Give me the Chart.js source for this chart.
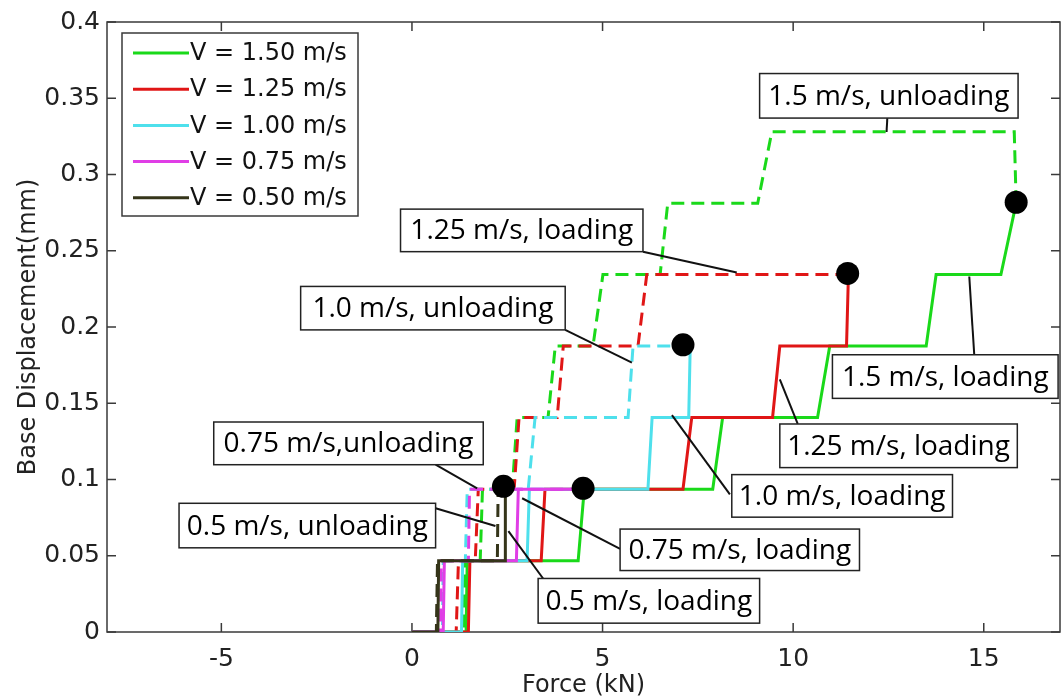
<!DOCTYPE html>
<html><head><meta charset="utf-8">
<script src="https://cdn.jsdelivr.net/npm/chart.js@4.4.1/dist/chart.umd.min.js"></script>
<style>html,body{margin:0;background:#fff}canvas{display:block}</style>
</head><body>
<canvas id="c" width="1061" height="700" style="width:1061px;height:700px"></canvas>
<script>
// Base displacement vs force, step curves (loading solid / unloading dashed)
const xTicks = [-5, 0, 5, 10, 15];
const yTicks = [0, 0.05, 0.1, 0.15, 0.2, 0.25, 0.3, 0.35, 0.4];
const yTickLabels = ['0','0.05','0.1','0.15','0.2','0.25','0.3','0.35','0.4'];
const speeds = ['V = 1.50 m/s','V = 1.25 m/s','V = 1.00 m/s','V = 0.75 m/s','V = 0.50 m/s'];
const colors = ['#1ad91a','#e01616','#4ee0ec','#e03ee6','#35351a'];

// loading (solid)
const load150X = [0, 1.42, 1.45, 4.36, 4.52, 7.89, 8.15, 10.64, 10.96, 13.49, 13.75, 15.45, 15.85];
const load150Y = [0, 0, 0.0468, 0.0468, 0.0936, 0.0936, 0.1407, 0.1407, 0.1876, 0.1876, 0.2344, 0.2344, 0.2812];
const load125X = [0, 1.48, 1.52, 3.39, 3.49, 7.11, 7.34, 9.46, 9.65, 11.40, 11.45];
const load125Y = [0, 0, 0.0468, 0.0468, 0.0936, 0.0936, 0.1407, 0.1407, 0.1876, 0.1876, 0.2344];
const load100X = [0, 1.30, 1.33, 3.02, 3.08, 6.19, 6.30, 7.26, 7.30];
const load100Y = [0, 0, 0.0468, 0.0468, 0.0936, 0.0936, 0.1407, 0.1407, 0.1876];
const load075X = [0, 0.82, 0.85, 2.74, 2.79, 4.49];
const load075Y = [0, 0, 0.0468, 0.0468, 0.0936, 0.0936];
const load050X = [0, 0.68, 0.70, 2.45, 2.45];
const load050Y = [0, 0, 0.0468, 0.0468, 0.0936];

// unloading (dashed)
const unl150X = [15.85, 15.80, 9.44, 9.07, 6.71, 6.51, 5.01, 4.75, 3.76, 3.57, 2.76, 2.63, 1.85, 1.79, 1.40, 1.35];
const unl150Y = [0.2812, 0.328, 0.328, 0.2812, 0.2812, 0.2344, 0.2344, 0.1876, 0.1876, 0.1407, 0.1407, 0.0936, 0.0936, 0.0468, 0.0468, 0];
const unl125X = [11.45, 6.16, 5.93, 3.97, 3.81, 2.81, 2.68, 1.74, 1.66, 1.22, 1.16];
const unl125Y = [0.2344, 0.2344, 0.1876, 0.1876, 0.1407, 0.1407, 0.0936, 0.0936, 0.0468, 0.0468, 0];
const unl100X = [7.30, 5.80, 5.67, 3.23, 3.05, 1.45, 1.40, 0.82, 0.80];
const unl100Y = [0.1876, 0.1876, 0.1407, 0.1407, 0.0936, 0.0936, 0.0468, 0.0468, 0];
const unl075X = [4.49, 1.51, 1.48, 0.77, 0.75];
const unl075Y = [0.0936, 0.0936, 0.0468, 0.0468, 0];
const unl050X = [2.40, 2.26, 2.24, 0.67, 0.64];
const unl050Y = [0.0936, 0.0936, 0.0468, 0.0468, 0];

// peak markers
const peakX = [2.40, 4.49, 7.11, 11.43, 15.85];
const peakY = [0.0955, 0.0942, 0.1883, 0.2351, 0.2818];

// callouts: box [x1,y1,x2,y2] and leader [x1,y1,x2,y2], data units
const notes = [
  {text:'1.5 m/s, unloading', box:[9.12,0.3662,15.90,0.3370], lead:[12.47,0.3370,12.45,0.3279]},
  {text:'1.25 m/s, loading', box:[-0.30,0.2773,6.06,0.2494], lead:[6.06,0.2494,8.52,0.2357]},
  {text:'1.0 m/s, unloading', box:[-2.92,0.2266,4.02,0.1981], lead:[4.02,0.1981,5.77,0.1766]},
  {text:'1.5 m/s, loading', box:[11.03,0.1818,16.95,0.1532], lead:[14.62,0.2331,14.75,0.1818]},
  {text:'1.25 m/s, loading', box:[9.65,0.1364,15.88,0.1078], lead:[9.65,0.1656,10.12,0.1364]},
  {text:'1.0 m/s, loading', box:[8.39,0.1032,14.18,0.0753], lead:[6.82,0.1422,8.34,0.0903]},
  {text:'0.75 m/s, loading', box:[5.46,0.0675,11.74,0.0403], lead:[2.89,0.0877,5.46,0.0545]},
  {text:'0.5 m/s, loading', box:[3.31,0.0351,9.12,0.0058], lead:[2.53,0.0662,3.44,0.0351]},
  {text:'0.75 m/s,unloading', box:[-5.20,0.1377,1.87,0.1097], lead:[0.62,0.1097,1.71,0.0942]},
  {text:'0.5 m/s, unloading', box:[-6.11,0.0844,0.62,0.0552], lead:[0.62,0.0812,2.19,0.0695]}
];

const pts=(xs,ys)=>xs.map((x,i)=>({x,y:ys[i]}));
const line=(xs,ys,color,dash)=>({data:pts(xs,ys),borderColor:color,borderWidth:3,borderDash:dash?[13,7]:[],pointRadius:0,showLine:true,fill:false,tension:0});

// first dataset is drawn on top
const datasets=[
  {data:pts(peakX,peakY),pointRadius:11.5,pointBackgroundColor:'#000',pointBorderWidth:0,showLine:false},
  line(load050X,load050Y,colors[4]), line(unl050X,unl050Y,colors[4],true),
  line(load075X,load075Y,colors[3]), line(unl075X,unl075Y,colors[3],true),
  line(load100X,load100Y,colors[2]), line(unl100X,unl100Y,colors[2],true),
  line(load125X,load125Y,colors[1]), line(unl125X,unl125Y,colors[1],true),
  line(load150X,load150Y,colors[0]), line(unl150X,unl150Y,colors[0],true)
];

const FONT='DejaVu Sans';
const frame={id:'frame',beforeDatasetsDraw(c){
  const {ctx,chartArea:a,scales:{x,y}}=c; ctx.save();
  ctx.strokeStyle='#3a3a3a'; ctx.lineWidth=1.5;
  ctx.strokeRect(a.left,a.top,a.right-a.left,a.bottom-a.top);
  ctx.beginPath();
  xTicks.forEach(v=>{const p=x.getPixelForValue(v); ctx.moveTo(p,a.bottom); ctx.lineTo(p,a.bottom-9); ctx.moveTo(p,a.top); ctx.lineTo(p,a.top+9);});
  yTicks.forEach(v=>{const p=y.getPixelForValue(v); ctx.moveTo(a.left,p); ctx.lineTo(a.left+9,p); ctx.moveTo(a.right,p); ctx.lineTo(a.right-9,p);});
  ctx.stroke(); ctx.restore();
}};
const callouts={id:'callouts',afterDatasetsDraw(c){
  const {ctx,scales:{x,y}}=c; ctx.save();
  ctx.strokeStyle='#111'; ctx.lineWidth=2;
  notes.forEach(n=>{const [a,b,p,q]=n.lead; ctx.beginPath(); ctx.moveTo(x.getPixelForValue(a),y.getPixelForValue(b)); ctx.lineTo(x.getPixelForValue(p),y.getPixelForValue(q)); ctx.stroke();});
  ctx.font='28px "Open Sans"'; ctx.textAlign='center'; ctx.textBaseline='middle';
  notes.forEach(n=>{
    const l=x.getPixelForValue(n.box[0]), t=y.getPixelForValue(n.box[1]), r=x.getPixelForValue(n.box[2]), b=y.getPixelForValue(n.box[3]);
    ctx.fillStyle='#fff'; ctx.fillRect(l,t,r-l,b-t);
    ctx.lineWidth=1.5; ctx.strokeStyle='#222'; ctx.strokeRect(l,t,r-l,b-t);
    ctx.fillStyle='#000'; ctx.fillText(n.text,(l+r)/2,(t+b)/2+1);
  });
  ctx.restore();
}};
const legendBox={id:'legendBox',afterDraw(c){
  const {ctx,chartArea:a}=c; const x0=a.left+15, y0=a.top+11, w=236, h=183;
  ctx.save(); ctx.fillStyle='#fff'; ctx.fillRect(x0,y0,w,h);
  ctx.strokeStyle='#3a3a3a'; ctx.lineWidth=1.5; ctx.strokeRect(x0,y0,w,h);
  ctx.font='24px "'+FONT+'"'; ctx.textBaseline='middle';
  speeds.forEach((s,i)=>{ const yy=y0+20+i*36.2;
    ctx.strokeStyle=colors[i]; ctx.lineWidth=3; ctx.beginPath(); ctx.moveTo(x0+11,yy); ctx.lineTo(x0+67,yy); ctx.stroke();
    ctx.fillStyle='#111'; ctx.fillText(s,x0+68,yy+1);
  });
  ctx.restore();
}};

new Chart(document.getElementById('c'),{
  type:'scatter',
  data:{datasets},
  options:{
    responsive:false, animation:false, devicePixelRatio:1,
    layout:{autoPadding:false,padding:{left:14,top:16,right:1,bottom:0}},
    plugins:{legend:{display:false},tooltip:{enabled:false}},
    scales:{
      x:{type:'linear',min:-8,max:17,
        afterBuildTicks:s=>{s.ticks=xTicks.map(value=>({value}));},
        afterFit:s=>{s.height=68;},
        grid:{display:false,drawTicks:false},border:{display:false},
        ticks:{font:{family:FONT,size:25},color:'#222',padding:12},
        title:{display:true,text:'Force (kN)',font:{family:FONT,size:24},color:'#222',padding:0}},
      y:{type:'linear',min:0,max:0.4,
        afterBuildTicks:s=>{s.ticks=yTicks.map(value=>({value}));},
        afterFit:s=>{s.width=93;},
        grid:{display:false,drawTicks:false},border:{display:false},
        ticks:{font:{family:FONT,size:25},color:'#222',padding:7,callback:(v,i)=>yTickLabels[i]},
        title:{display:true,text:'Base Displacement(mm)',font:{family:FONT,size:24},color:'#222',padding:0}}
    }
  },
  plugins:[frame,callouts,legendBox]
});
</script>
</body></html>
